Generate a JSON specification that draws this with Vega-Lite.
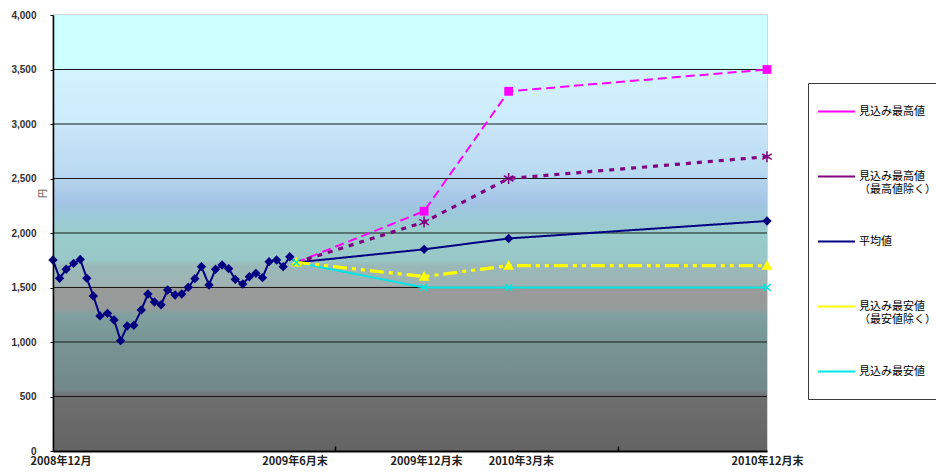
{
  "$schema": "https://vega.github.io/schema/vega-lite/v6.json",
  "width": 714,
  "height": 436,
  "autosize": {"type": "none"},
  "padding": {"left": 53, "top": 15, "right": 169, "bottom": 21},
  "background": "white",
  "config": {"view": {"stroke": "#c8c8c8", "strokeWidth": 1.5}},
  "layer": [
    {
      "data": {"values": [{"part": "background"}]},
      "mark": {
        "type": "rect",
        "fill": {
          "gradient": "linear", "x1": 0, "y1": 0, "x2": 0, "y2": 1,
          "stops": [
            {"offset": 0, "color": "#ccffff"},
            {"offset": 0.12, "color": "#ccffff"},
            {"offset": 0.13, "color": "#d2f2fe"},
            {"offset": 0.25, "color": "#ccecfc"},
            {"offset": 0.26, "color": "#c8e4f8"},
            {"offset": 0.35, "color": "#bcdcf2"},
            {"offset": 0.375, "color": "#b4d4ee"},
            {"offset": 0.43, "color": "#a4c4e6"},
            {"offset": 0.46, "color": "#9cc8d8"},
            {"offset": 0.5, "color": "#99cccc"},
            {"offset": 0.5625, "color": "#99c8c8"},
            {"offset": 0.575, "color": "#9ab8b8"},
            {"offset": 0.62, "color": "#9fb3b3"},
            {"offset": 0.625, "color": "#9a9a9a"},
            {"offset": 0.67, "color": "#979a9a"},
            {"offset": 0.69, "color": "#7fa0a0"},
            {"offset": 0.75, "color": "#779494"},
            {"offset": 0.86, "color": "#738888"},
            {"offset": 0.875, "color": "#6e6e6e"},
            {"offset": 1, "color": "#646464"}
          ]
        }
      },
      "encoding": {
        "y": {
          "datum": 4000, "type": "quantitative",
          "axis": {
            "title": "円", "titleFont": "Noto Sans CJK JP", "titleFontSize": 9, "titleFontWeight": "normal", "titleColor": "#444444",
            "titleX": -6, "titleY": 178,
            "values": [0, 500, 1000, 1500, 2000, 2500, 3000, 3500, 4000], "format": ",",
            "labelExpr": "format(datum.value, ',')",
            "labelFont": "Liberation Sans", "labelFontSize": 10, "labelFontWeight": "bold", "labelColor": "#333333", "labelPadding": 14,
            "tickSize": 3, "tickColor": "#000000", "domainColor": "#000000", "domainWidth": 1.5, "grid": false, "zindex": 1
          }
        },
        "y2": {"datum": 0}
      }
    },
    {
      "data": {"values": [{"level": 500}, {"level": 1000}, {"level": 1500}, {"level": 2000}, {"level": 2500}, {"level": 3000}, {"level": 3500}]},
      "mark": {"type": "rule", "color": "#1a1a1a", "strokeWidth": 1.2},
      "encoding": {
        "y": {
          "field": "level", "type": "quantitative",
          "axis": {
            "title": "円", "titleFont": "Noto Sans CJK JP", "titleFontSize": 9, "titleFontWeight": "normal", "titleColor": "#444444",
            "titleX": -6, "titleY": 178,
            "values": [0, 500, 1000, 1500, 2000, 2500, 3000, 3500, 4000], "format": ",",
            "labelExpr": "format(datum.value, ',')",
            "labelFont": "Liberation Sans", "labelFontSize": 10, "labelFontWeight": "bold", "labelColor": "#333333", "labelPadding": 14,
            "tickSize": 3, "tickColor": "#000000", "domainColor": "#000000", "domainWidth": 1.5, "grid": false, "zindex": 1
          }
        }
      }
    },
    {
      "data": {
        "values": [
          {"date": "2008-12-01", "series": "平均値", "value": 1752},
          {"date": "2008-12-08", "series": "平均値", "value": 1584},
          {"date": "2008-12-15", "series": "平均値", "value": 1667},
          {"date": "2008-12-23", "series": "平均値", "value": 1722},
          {"date": "2008-12-30", "series": "平均値", "value": 1758},
          {"date": "2009-01-06", "series": "平均値", "value": 1584},
          {"date": "2009-01-13", "series": "平均値", "value": 1422},
          {"date": "2009-01-20", "series": "平均値", "value": 1239},
          {"date": "2009-01-28", "series": "平均値", "value": 1263},
          {"date": "2009-02-04", "series": "平均値", "value": 1202},
          {"date": "2009-02-11", "series": "平均値", "value": 1012},
          {"date": "2009-02-18", "series": "平均値", "value": 1147},
          {"date": "2009-02-25", "series": "平均値", "value": 1153},
          {"date": "2009-03-05", "series": "平均値", "value": 1294},
          {"date": "2009-03-12", "series": "平均値", "value": 1440},
          {"date": "2009-03-19", "series": "平均値", "value": 1367},
          {"date": "2009-03-26", "series": "平均値", "value": 1342},
          {"date": "2009-04-02", "series": "平均値", "value": 1477},
          {"date": "2009-04-10", "series": "平均値", "value": 1431},
          {"date": "2009-04-17", "series": "平均値", "value": 1440},
          {"date": "2009-04-24", "series": "平均値", "value": 1502},
          {"date": "2009-05-01", "series": "平均値", "value": 1581},
          {"date": "2009-05-08", "series": "平均値", "value": 1691},
          {"date": "2009-05-16", "series": "平均値", "value": 1523},
          {"date": "2009-05-23", "series": "平均値", "value": 1667},
          {"date": "2009-05-30", "series": "平均値", "value": 1706},
          {"date": "2009-06-06", "series": "平均値", "value": 1673},
          {"date": "2009-06-13", "series": "平均値", "value": 1575},
          {"date": "2009-06-21", "series": "平均値", "value": 1532},
          {"date": "2009-06-28", "series": "平均値", "value": 1599},
          {"date": "2009-07-05", "series": "平均値", "value": 1630},
          {"date": "2009-07-12", "series": "平均値", "value": 1590},
          {"date": "2009-07-19", "series": "平均値", "value": 1737},
          {"date": "2009-07-27", "series": "平均値", "value": 1752},
          {"date": "2009-08-03", "series": "平均値", "value": 1691},
          {"date": "2009-08-10", "series": "平均値", "value": 1782},
          {"date": "2009-08-17", "series": "平均値", "value": 1730},
          {"date": "2009-12-31", "series": "平均値", "value": 1850},
          {"date": "2010-03-31", "series": "平均値", "value": 1950},
          {"date": "2010-12-31", "series": "平均値", "value": 2110},
          {"date": "2009-08-17", "series": "見込み最高値", "value": 1730},
          {"date": "2009-12-31", "series": "見込み最高値", "value": 2200},
          {"date": "2010-03-31", "series": "見込み最高値", "value": 3300},
          {"date": "2010-12-31", "series": "見込み最高値", "value": 3500},
          {"date": "2009-08-17", "series": "見込み最高値（最高値除く）", "value": 1730},
          {"date": "2009-12-31", "series": "見込み最高値（最高値除く）", "value": 2100},
          {"date": "2010-03-31", "series": "見込み最高値（最高値除く）", "value": 2500},
          {"date": "2010-12-31", "series": "見込み最高値（最高値除く）", "value": 2700},
          {"date": "2009-08-17", "series": "見込み最安値（最安値除く）", "value": 1730},
          {"date": "2009-12-31", "series": "見込み最安値（最安値除く）", "value": 1600},
          {"date": "2010-03-31", "series": "見込み最安値（最安値除く）", "value": 1700},
          {"date": "2010-12-31", "series": "見込み最安値（最安値除く）", "value": 1700},
          {"date": "2009-08-17", "series": "見込み最安値", "value": 1730},
          {"date": "2009-12-31", "series": "見込み最安値", "value": 1500},
          {"date": "2010-03-31", "series": "見込み最安値", "value": 1500},
          {"date": "2010-12-31", "series": "見込み最安値", "value": 1500}
        ]
      },
      "encoding": {
        "x": {
          "field": "date", "type": "temporal",
          "scale": {"domain": [{"year": 2008, "month": 12, "date": 1}, {"year": 2010, "month": 12, "date": 31}]},
          "axis": {
            "title": null,
            "grid": false,
            "zindex": 1,
            "values": [
              {"year": 2008, "month": 12, "date": 9},
              {"year": 2009, "month": 8, "date": 15},
              {"year": 2009, "month": 9, "date": 27},
              {"year": 2010, "month": 1, "date": 2},
              {"year": 2010, "month": 4, "date": 13},
              {"year": 2010, "month": 7, "date": 25},
              {"year": 2010, "month": 12, "date": 31}
            ],
            "labelExpr": "timeFormat(datum.value,'%Y-%m-%d')=='2008-12-09'?'2008年12月':timeFormat(datum.value,'%Y-%m-%d')=='2009-08-15'?'2009年6月末':timeFormat(datum.value,'%Y-%m-%d')=='2010-01-02'?'2009年12月末':timeFormat(datum.value,'%Y-%m-%d')=='2010-04-13'?'2010年3月末':timeFormat(datum.value,'%Y-%m-%d')=='2010-12-31'?'2010年12月末':''",
            "labelFont": "Noto Sans CJK JP",
            "labelFontSize": 11,
            "labelFontWeight": "bold",
            "labelColor": "#222222",
            "labelOverlap": false,
            "labelFlush": false,
            "labelPadding": 9,
            "tickSize": -5,
            "tickWidth": 1.5,
            "tickColor": "#000000",
            "tickOpacity": {"condition": {"test": "timeFormat(datum.value,'%m-%d')=='09-27' || timeFormat(datum.value,'%m-%d')=='07-25'", "value": 1}, "value": 0},
            "domainColor": "#000000",
            "domainWidth": 2
          }
        },
        "y": {
          "field": "value", "type": "quantitative",
          "scale": {"domain": [0, 4000], "nice": false},
          "axis": {
            "title": "円", "titleFont": "Noto Sans CJK JP", "titleFontSize": 9, "titleFontWeight": "normal", "titleColor": "#444444",
            "titleX": -6, "titleY": 178,
            "values": [0, 500, 1000, 1500, 2000, 2500, 3000, 3500, 4000], "format": ",",
            "labelExpr": "format(datum.value, ',')",
            "labelFont": "Liberation Sans", "labelFontSize": 10, "labelFontWeight": "bold", "labelColor": "#333333", "labelPadding": 14,
            "tickSize": 3, "tickColor": "#000000", "domainColor": "#000000", "domainWidth": 1.5, "grid": false, "zindex": 1
          }
        },
        "color": {
          "field": "series", "type": "nominal",
          "scale": {
            "domain": ["見込み最高値", "見込み最高値（最高値除く）", "平均値", "見込み最安値（最安値除く）", "見込み最安値"],
            "range": ["#ff00ff", "#800080", "#000080", "#ffff00", "#00e5e5"]
          },
          "legend": {
            "orient": "none",
            "legendX": 755,
            "legendY": 68,
            "title": null,
            "direction": "vertical",
            "padding": 9,
            "strokeColor": "#3a3a3a",
            "fillColor": "#ffffff",
            "symbolSize": 1369,
            "symbolType": "M-1,0H1",
            "symbolStrokeWidth": 2,
            "rowPadding": 27,
            "labelFont": "Noto Sans CJK JP",
            "labelFontSize": 11,
            "labelColor": "#000000",
            "labelOffset": 3,
            "labelLimit": 300,
            "labelExpr": "indexof(datum.label,'（')>0?[substring(datum.label,0,indexof(datum.label,'（')),substring(datum.label,indexof(datum.label,'（'))]:[datum.label,' ']"
          }
        }
      },
      "resolve": {"scale": {"strokeDash": "independent", "shape": "independent"}},
      "layer": [
        {
          "transform": [{"filter": {"field": "series", "oneOf": ["見込み最高値", "平均値", "見込み最安値"]}}],
          "mark": {"type": "line", "strokeWidth": 2},
          "encoding": {
            "strokeDash": {
              "field": "series", "type": "nominal",
              "scale": {"domain": ["見込み最高値", "平均値", "見込み最安値"], "range": [[9, 5], [1, 0], [1, 0]]},
              "legend": null
            }
          }
        },
        {
          "transform": [{"filter": {"field": "series", "oneOf": ["見込み最高値（最高値除く）", "見込み最安値（最安値除く）"]}}],
          "mark": {"type": "line", "strokeWidth": 3.2, "strokeCap": "butt"},
          "encoding": {
            "strokeDash": {
              "field": "series", "type": "nominal",
              "scale": {"domain": ["見込み最高値（最高値除く）", "見込み最安値（最安値除く）"], "range": [[5, 6], [14, 5, 4, 5, 4, 5]]},
              "legend": null
            }
          }
        },
        {
          "transform": [
            {"filter": {"field": "series", "oneOf": ["見込み最高値", "平均値", "見込み最安値（最安値除く）"]}},
            {"filter": "!(utcFormat(datum.date,'%Y-%m-%d')=='2009-08-17' && datum.series!='見込み最安値（最安値除く）')"}
          ],
          "mark": {"type": "point", "filled": true, "opacity": 1, "size": 121, "strokeWidth": 0},
          "encoding": {
            "shape": {
              "field": "series", "type": "nominal",
              "scale": {
                "domain": ["見込み最高値", "平均値", "見込み最安値（最安値除く）"],
                "range": ["M-0.8,-0.8H0.8V0.8H-0.8Z", "M0,-0.85L0.85,0L0,0.85L-0.85,0Z", "M0,-1L1,0.75L-1,0.75Z"]
              },
              "legend": null
            }
          }
        },
        {
          "transform": [
            {"filter": {"field": "series", "oneOf": ["見込み最高値（最高値除く）", "見込み最安値"]}},
            {"filter": "!(utcFormat(datum.date,'%Y-%m-%d')=='2009-08-17' && datum.series!='見込み最安値')"}
          ],
          "mark": {"type": "point", "filled": false, "opacity": 1, "size": 121, "strokeWidth": 1.5},
          "encoding": {
            "shape": {
              "field": "series", "type": "nominal",
              "scale": {
                "domain": ["見込み最高値（最高値除く）", "見込み最安値"],
                "range": ["M0,-1V1M-0.87,-0.5L0.87,0.5M-0.87,0.5L0.87,-0.5", "M-0.65,-0.65L0.65,0.65M-0.65,0.65L0.65,-0.65"]
              },
              "legend": null
            }
          }
        }
      ]
    }
  ]
}
